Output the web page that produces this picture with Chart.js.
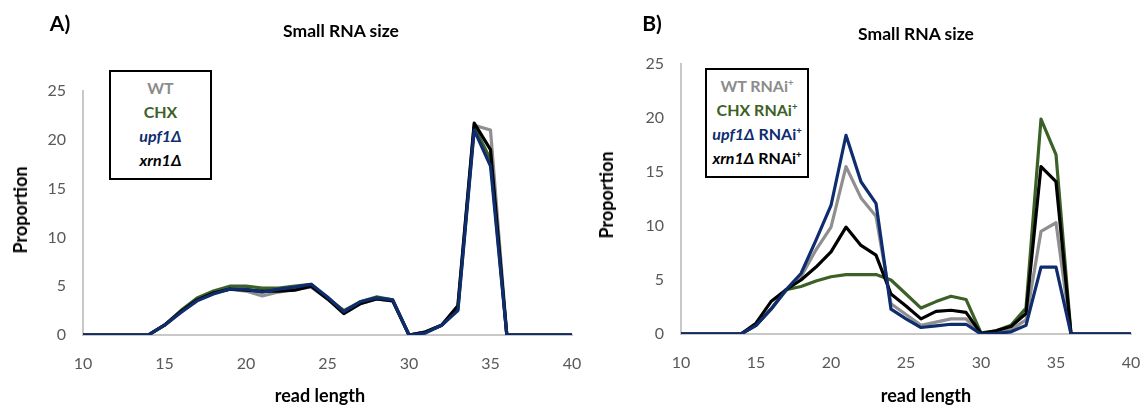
<!DOCTYPE html>
<html>
<head>
<meta charset="utf-8">
<script src="https://cdn.jsdelivr.net/npm/chart.js@4"></script>
<style>
  html, body { margin:0; padding:0; background:#fff; }
  body { width:1145px; height:410px; position:relative; overflow:hidden; font-family: Lato, "Open Sans", sans-serif; }
  .abs { position:absolute; }
  .panel { font-weight:bold; font-size:21px; color:#000; transform:translate(-50%,-50%); }
  .ttl { font-weight:bold; font-size:17.5px; color:#000; transform:translate(-50%,-50%); white-space:nowrap; }
  .axt { font-weight:bold; font-size:18px; color:#000; white-space:nowrap; }
  .ylab { transform:translate(-50%,-50%) rotate(-90deg); }
  .xlab { transform:translate(-50%,-50%); }
  .leg { border:2px solid #000; background:#fff; box-sizing:border-box; text-align:center; font-weight:bold; font-size:16px; }
  .leg div { line-height:24px; white-space:nowrap; }
  sup { font-size:9.5px; vertical-align:6px; line-height:0; }
</style>
</head>
<body>
<canvas id="cA" class="abs" style="left:0;top:0" width="602" height="410"></canvas>
<canvas id="cB" class="abs" style="left:590px;top:0" width="571" height="410"></canvas>

<div class="abs panel" style="left:60px;top:22px">A)</div>
<div class="abs panel" style="left:652px;top:22px">B)</div>
<div class="abs ttl" style="left:341px;top:30px">Small RNA size</div>
<div class="abs ttl" style="left:916px;top:33px">Small RNA size</div>
<div class="abs axt ylab" style="left:20px;top:210px">Proportion</div>
<div class="abs axt ylab" style="left:606px;top:195px">Proportion</div>
<div class="abs axt xlab" style="left:320px;top:395px">read length</div>
<div class="abs axt xlab" style="left:926px;top:395px">read length</div>

<div class="abs leg" style="left:109px;top:70px;width:103px;height:110px;padding-top:4px">
  <div style="color:#8c8c8c">WT</div>
  <div style="color:#3c6127">CHX</div>
  <div style="color:#0e2c6e"><i>upf1Δ</i></div>
  <div style="color:#000"><i>xrn1Δ</i></div>
</div>
<div class="abs leg" style="left:705px;top:68px;width:104px;height:110px;padding-top:4px">
  <div style="color:#8c8c8c">WT RNAi<sup>+</sup></div>
  <div style="color:#3c6127">CHX RNAi<sup>+</sup></div>
  <div style="color:#0e2c6e"><i>upf1Δ</i> RNAi<sup>+</sup></div>
  <div style="color:#000"><i>xrn1Δ</i> RNAi<sup>+</sup></div>
</div>

<script>
// read length categories
const readLength = [10,11,12,13,14,15,16,17,18,19,20,21,22,23,24,25,26,27,28,29,30,31,32,33,34,35,36,37,38,39,40];
const xTicks = [10,15,20,25,30,35,40];
const yTicks = [0,5,10,15,20,25];

// Panel A series
const A_WT   = [0,0,0,0,0,1.0,2.3,3.6,4.3,4.7,4.5,4.0,4.4,4.7,4.9,3.7,2.4,3.2,3.7,3.5,0,0.3,1.0,3.0,21.5,21.0,0,0,0,0,0];
const A_CHX  = [0,0,0,0,0,1.0,2.5,3.8,4.5,5.0,5.0,4.8,4.8,5.0,5.2,3.8,2.5,3.4,3.9,3.6,0,0.3,1.0,2.6,21.3,18.0,0,0,0,0,0];
const A_UPF1 = [0,0,0,0,0,1.0,2.3,3.5,4.2,4.7,4.7,4.4,4.7,4.9,5.2,3.9,2.4,3.4,3.8,3.6,0,0.2,1.0,2.5,21.0,17.3,0,0,0,0,0];
const A_XRN1 = [0,0,0,0,0,1.0,2.4,3.6,4.3,4.7,4.6,4.5,4.5,4.6,5.0,3.7,2.2,3.2,3.7,3.5,0,0.3,1.0,3.0,21.7,19.0,0,0,0,0,0];

// Panel B series (RNAi+)
const B_WT   = [0,0,0,0,0,0.8,2.3,4.0,5.3,7.8,9.9,15.5,12.6,10.9,2.8,1.8,0.8,1.1,1.4,1.4,0,0.1,0.4,1.3,9.5,10.3,0,0,0,0,0];
const B_CHX  = [0,0,0,0,0,0.8,2.3,4.1,4.4,4.9,5.3,5.5,5.5,5.5,5.0,3.7,2.4,3.0,3.5,3.2,0.1,0.3,0.8,2.4,19.9,16.6,0,0,0,0,0];
const B_UPF1 = [0,0,0,0,0,0.8,2.3,4.1,5.6,8.7,11.9,18.4,14.1,12.1,2.3,1.4,0.6,0.75,0.9,0.9,0,0.05,0.2,0.8,6.2,6.2,0,0,0,0,0];
const B_XRN1 = [0,0,0,0,0,1.0,3.0,4.1,5.0,6.2,7.6,9.9,8.2,7.3,3.7,2.6,1.4,2.1,2.2,2.0,0.05,0.3,0.7,1.9,15.5,14.1,0,0,0,0,0];

const COL = { wt:'#8f8f8f', chx:'#3c6127', upf1:'#0e2c6e', xrn1:'#000000' };
const pts = arr => arr.map((v,i) => ({x: readLength[i], y: v}));

function ds(label, arr, color, order) {
  return { label, data: pts(arr), borderColor: color, backgroundColor: color, borderWidth: 3.2,
           pointRadius: 0, tension: 0, fill: false, order, borderJoinStyle: 'round', borderCapStyle: 'round' };
}

function makeChart(id, sets, yAxisWidth, xAxisHeight, padTop, padRight) {
  return new Chart(document.getElementById(id), {
    type: 'line',
    data: { datasets: sets },
    options: {
      responsive: false, animation: false, events: [],
      layout: { padding: { top: padTop, right: padRight, left: 0, bottom: 0 } },
      plugins: { legend: { display: false }, tooltip: { enabled: false }, title: { display: false } },
      scales: {
        x: {
          type: 'linear', min: 10, max: 40,
          afterBuildTicks: s => { s.ticks = xTicks.map(v => ({value: v})); },
          afterFit: s => { s.height = xAxisHeight; },
          grid: { display: false, drawTicks: false },
          border: { display: true, color: '#c8c8c8', width: 2 },
          ticks: { padding: 19, color: '#595959', font: { family: 'Lato', size: 16 }, maxRotation: 0 }
        },
        y: {
          type: 'linear', min: 0, max: 25,
          afterBuildTicks: s => { s.ticks = yTicks.map(v => ({value: v})); },
          afterFit: s => { s.width = yAxisWidth; },
          grid: { display: false, drawTicks: false },
          border: { display: true, color: '#c8c8c8', width: 2 },
          ticks: { padding: 17, color: '#595959', font: { family: 'Lato', size: 16 } }
        }
      }
    }
  });
}

makeChart('cA', [
  ds('upf1Δ', A_UPF1, COL.upf1, 0),
  ds('xrn1Δ', A_XRN1, COL.xrn1, 1),
  ds('CHX', A_CHX, COL.chx, 2),
  ds('WT', A_WT, COL.wt, 3)
], 83, 75, 91, 30);

makeChart('cB', [
  ds('upf1Δ RNAi+', B_UPF1, COL.upf1, 0),
  ds('xrn1Δ RNAi+', B_XRN1, COL.xrn1, 1),
  ds('CHX RNAi+', B_CHX, COL.chx, 2),
  ds('WT RNAi+', B_WT, COL.wt, 3)
], 91, 76, 64, 30);
</script>
</body>
</html>
